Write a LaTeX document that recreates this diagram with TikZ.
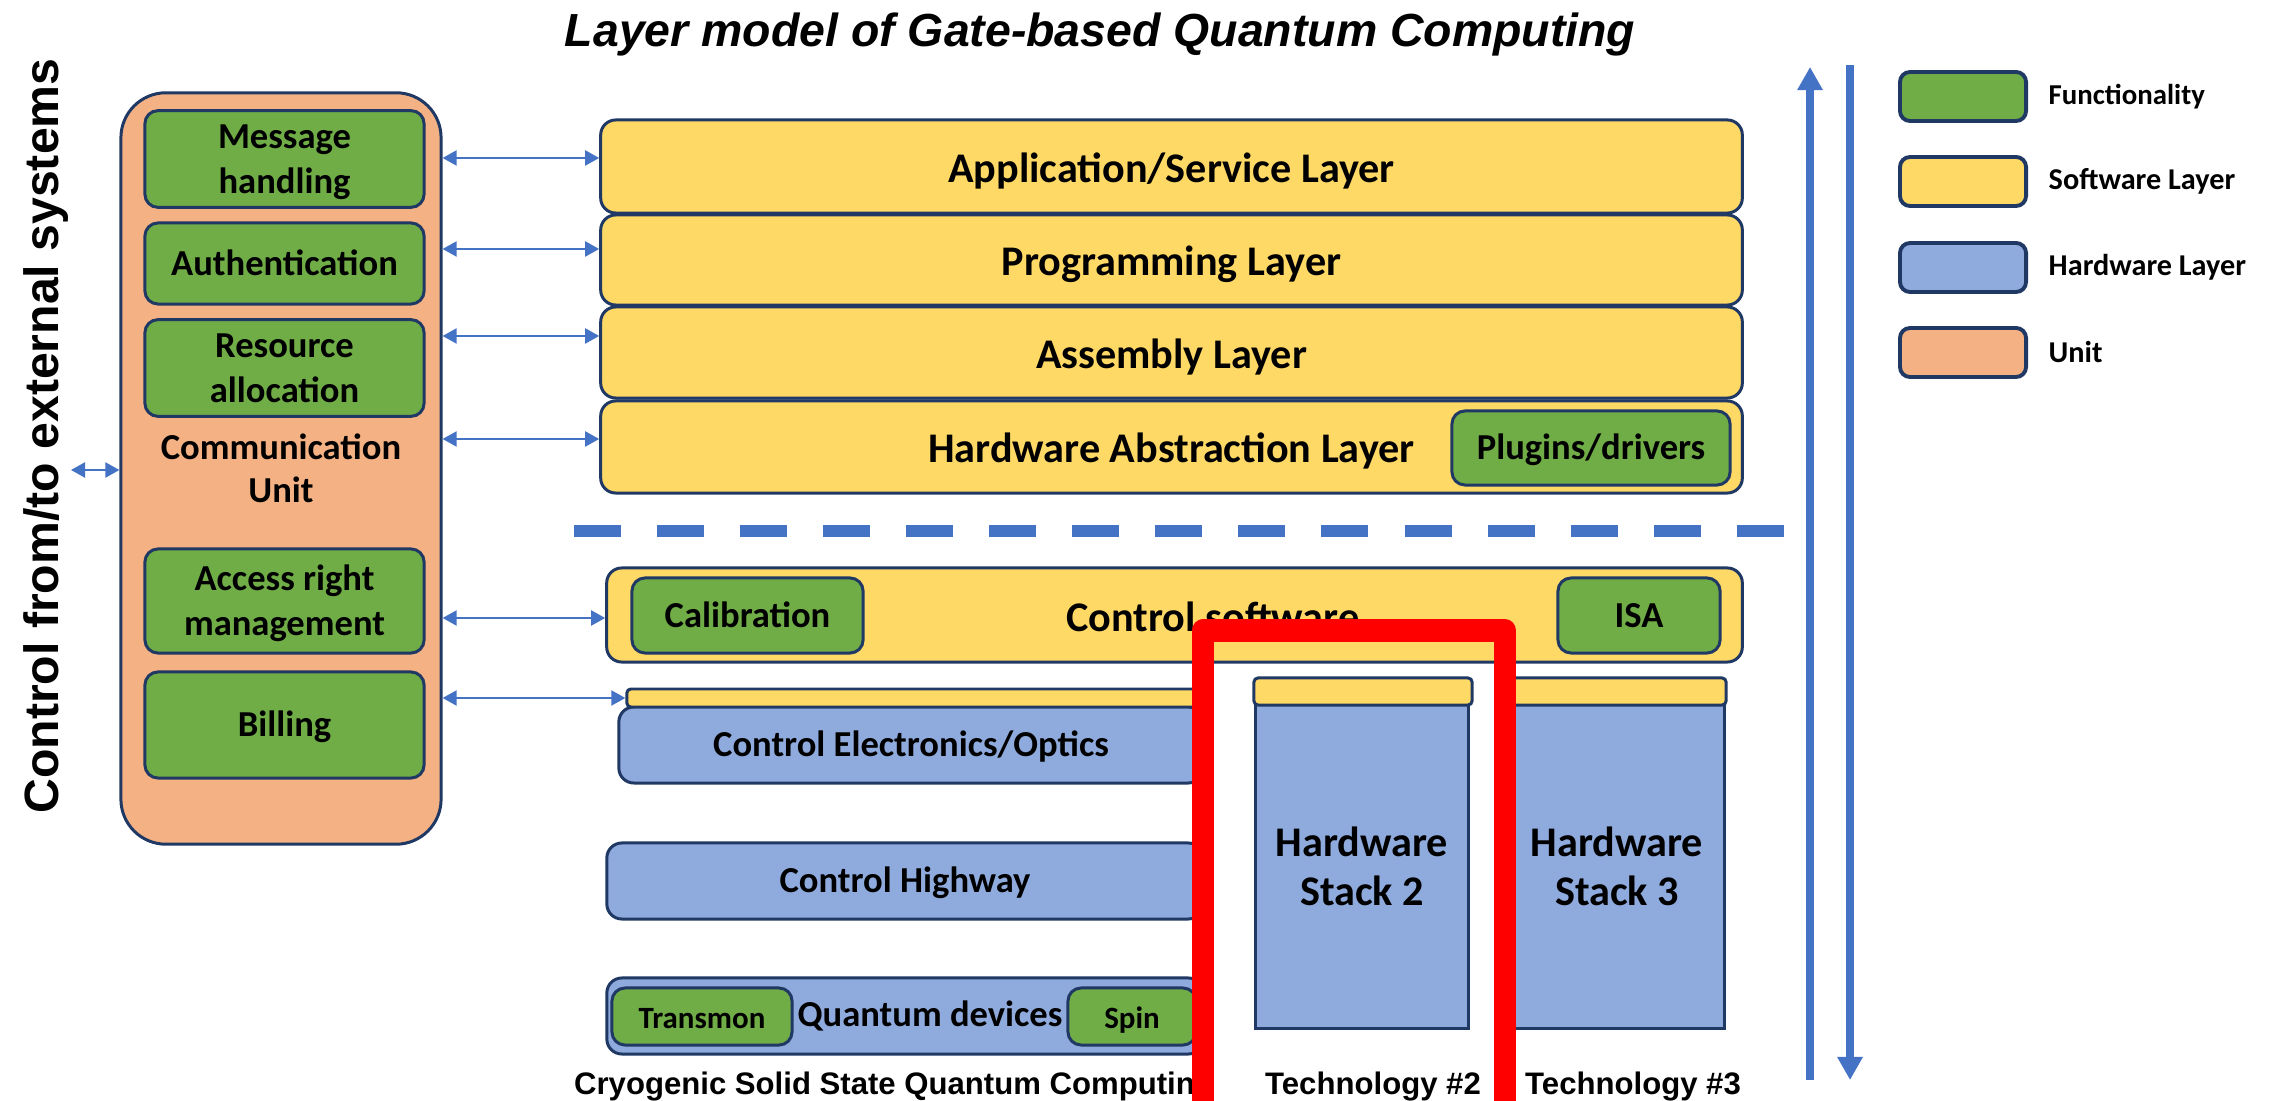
\documentclass[tikz,border=0pt]{standalone}
\usepackage{xcolor}
\usepackage{fontspec}
\setmainfont{Carlito}
\newfontfamily\arialfont{Liberation Sans}
\usepackage{tikz}
\usetikzlibrary{positioning,arrows.meta}

\definecolor{funcgreen}{HTML}{70AD47}
\definecolor{swyellow}{HTML}{FFD966}
\definecolor{hwblue}{HTML}{8FAADC}
\definecolor{unitorange}{HTML}{F4B183}
\definecolor{linkblue}{HTML}{4472C4}
\definecolor{boxline}{HTML}{203864}

% line struts for text set in several lines
\newcommand{\tstr}{\rule{0pt}{0.95em}}
\newcommand{\bstr}{\rule[-0.27em]{0pt}{0.27em}}

\begin{document}
\begin{tikzpicture}[x=0.01cm,y=-0.01cm]
				\tikzstyle{boxbase}=[draw=boxline, line width=0.85pt, inner sep=1pt, align=center, font=\bfseries\fontsize{10.4}{12.8}\selectfont]
				\tikzstyle{oneline}=[text height=9.5pt, text depth=2.7pt]
				\tikzstyle{twoline}=[text height=, text depth=]
				\tikzstyle{funcbox}=[boxbase, oneline, fill=funcgreen, rounded corners=0.13cm]
				\tikzstyle{swlayer}=[boxbase, fill=swyellow, rounded corners=0.15cm, text height=11.9pt, text depth=3pt, font=\bfseries\fontsize{12}{14}\selectfont]
				\tikzstyle{hwlayer}=[boxbase, oneline, fill=hwblue, rounded corners=0.15cm]
				\tikzstyle{hwstack}=[boxbase, fill=hwblue, minimum height=3.23cm, font=\bfseries\fontsize{12}{14}\selectfont]
				\tikzstyle{fwcap}=[boxbase, fill=swyellow, rounded corners=0.04cm, inner sep=0pt]
				\tikzstyle{unitbox}=[boxbase, fill=unitorange, rounded corners=0.45cm, font=\bfseries\fontsize{10.4}{12}\selectfont]
				\tikzstyle{legbox}=[draw=boxline, line width=1.1pt, rounded corners=0.1cm, minimum width=1.26cm, minimum height=0.49cm]
				\tikzstyle{legtext}=[font=\bfseries\fontsize{8.6}{10}\selectfont, inner sep=0pt]
				\tikzstyle{techlabel}=[font=\arialfont\bfseries\fontsize{8.85}{10}\selectfont, inner sep=0pt, anchor=base]
				\tikzset{link/.style = {<->, >={Triangle[length=0.14cm,width=0.15cm]}, draw=linkblue, line width=0.6pt}}
				\tikzset{bigarrow/.style = {-{Triangle[length=0.23cm,width=0.24cm]}, draw=linkblue, line width=0.075cm}}

				\useasboundingbox (0,0) rectangle (2280,1101);

				% title + side label
				\node[font=\arialfont\bfseries\itshape\fontsize{13.2}{16}\selectfont, anchor=base](title) at (1100,47) {Layer model of Gate-based Quantum Computing};
				\node[font=\arialfont\bfseries\fontsize{13.7}{16}\selectfont, rotate=90, anchor=base](extsys) at (58,436) {Control from/to external systems};

				% communication unit + functionalities
				\node[unitbox, minimum width=3.2cm, minimum height=7.51cm](unit) at (281,468.5) {\tstr Communication\\Unit\bstr};
				\node[funcbox, twoline, minimum width=2.79cm, minimum height=0.88cm](msg)    at (284.5,159)   {\tstr Message\\handling\bstr};
				\node[funcbox, minimum width=2.79cm, minimum height=0.81cm](auth)            at (284.5,263.5) {Authentication};
				\node[funcbox, twoline, minimum width=2.79cm, minimum height=0.82cm](res)    at (284.5,368)   {\tstr Resource\\allocation\bstr};
				\node[funcbox, twoline, minimum width=2.79cm, minimum height=1.04cm](access) at (284.5,601)   {\tstr Access right\\management\bstr};
				\node[funcbox, minimum width=2.79cm, minimum height=1.06cm](billing)         at (284.5,725)   {Billing};

				% software layers
				\node[swlayer, minimum width=11.41cm, minimum height=0.93cm](app)  at (1171.5,166.5) {Application/Service Layer};
				\node[swlayer, minimum width=11.41cm, minimum height=0.90cm](prog) at (1171.5,260)   {Programming Layer};
				\node[swlayer, minimum width=11.41cm, minimum height=0.91cm](asm)  at (1171.5,352.5) {Assembly Layer};
				\node[swlayer, minimum width=11.41cm, minimum height=0.92cm](hal)  at (1171.5,447)   {Hardware Abstraction Layer};
				\node[funcbox, minimum width=2.78cm, minimum height=0.74cm](plugins) at (1591,448) {Plugins/drivers};

				% separator
				\coordinate (sepL) at (574,531);
				\coordinate (sepR) at (1786,531);
				\draw[linkblue, line width=0.11cm, dash pattern=on 0.47cm off 0.36cm] (sepL) -- (sepR);

				% control software
				\node[swlayer, minimum width=11.35cm, minimum height=0.94cm](ctrlsw) at (1174.5,615) {};
				\node[font=\bfseries\fontsize{12}{14}\selectfont](ctrlswtxt) at (1213,617) {Control software};
				\node[funcbox, minimum width=2.31cm, minimum height=0.75cm](calib) at (747.5,615.5) {Calibration};
				\node[funcbox, minimum width=1.62cm, minimum height=0.75cm](isa)   at (1639,615.5)  {ISA};

				% technology #1 stack
				\node[hwlayer, minimum width=5.84cm, minimum height=0.76cm](ctrlel) at (911,745) {Control Electronics/Optics};
				\node[fwcap, minimum width=5.76cm, minimum height=0.18cm](fw1) at (915,698) {};
				\node[hwlayer, minimum width=5.96cm, minimum height=0.76cm](highway) at (905,881) {Control Highway};
				\node[hwlayer, minimum width=5.96cm, minimum height=0.76cm](qdev) at (905,1016) {};
				\node[font=\bfseries\fontsize{10.4}{12}\selectfont](qdevtxt) at (930,1016) {Quantum devices};
				\node[funcbox, minimum width=1.80cm, minimum height=0.57cm, font=\bfseries\fontsize{8.8}{10}\selectfont](transmon) at (702,1016.5) {Transmon};
				\node[funcbox, minimum width=1.28cm, minimum height=0.57cm, font=\bfseries\fontsize{8.8}{10}\selectfont](spin) at (1132,1016.5) {Spin};

				% technology #2 + #3 stacks
				\node[hwstack, minimum width=2.12cm](stack2) at (1362,866.5) {\tstr Hardware\\Stack 2\bstr};
				\node[fwcap, minimum width=2.18cm, minimum height=0.27cm](fw2) at (1363,691.5) {};
				\node[hwstack, minimum width=2.14cm](stack3) at (1617,866.5) {\tstr Hardware\\Stack 3\bstr};
				\node[fwcap, minimum width=2.18cm, minimum height=0.27cm](fw3) at (1617,691.5) {};

				% labels below
				\node[techlabel](tech1) at (894,1094)  {Cryogenic Solid State Quantum Computing};
				\node[techlabel](tech2) at (1373,1094) {Technology \#2};
				\node[techlabel](tech3) at (1633,1094) {Technology \#3};

				% links unit <-> layers
				\coordinate (appin)  at ([yshift=0.085cm]app.west);
				\coordinate (progin) at ([yshift=0.11cm]prog.west);
				\coordinate (asmin)  at ([yshift=0.165cm]asm.west);
				\coordinate (halin)  at ([yshift=0.08cm]hal.west);
				\coordinate (swin)   at ([yshift=-0.03cm]ctrlsw.west);
				\draw[link](unit.east |- appin)  to (appin);
				\draw[link](unit.east |- progin) to (progin);
				\draw[link](unit.east |- asmin)  to (asmin);
				\draw[link](unit.east |- halin)  to (halin);
				\draw[link](unit.east |- swin)   to (swin);
				\draw[link](unit.east |- fw1.west) to (fw1.west);
				\coordinate (ext) at (71,470);
				\draw[link](ext) to (ext -| unit.west);

				% highlight
				\coordinate (redBL) at (1203,1101);
				\coordinate (redTL) at (1203,630.5);
				\coordinate (redTR) at (1505,630.5);
				\coordinate (redBR) at (1505,1101);
				\draw[red, line width=0.22cm, line join=round] (redBL) -- (redTL) -- (redTR) -- (redBR);

				% direction arrows
				\coordinate (upS) at (1810,1080);
				\coordinate (upE) at (1810,67);
				\coordinate (dnS) at (1850,65);
				\coordinate (dnE) at (1850,1080);
				\draw[bigarrow](upS) to (upE);
				\draw[bigarrow](dnS) to (dnE);

				% legend
				\node[legbox, fill=funcgreen](legfunc) at (1963,96.5)  {};
				\node[legbox, fill=swyellow](legsw)    at (1963,181.5) {};
				\node[legbox, fill=hwblue](leghw)      at (1963,267.5) {};
				\node[legbox, fill=unitorange](legunit) at (1963,352.5) {};
				\node[legtext, font=\bfseries\fontsize{8.2}{10}\selectfont, right=0.2cm of legfunc](legfunctxt) {Functionality};
				\node[legtext, right=0.2cm of legsw](legswtxt)     {Software Layer};
				\node[legtext, right=0.2cm of leghw](leghwtxt)     {Hardware Layer};
				\node[legtext, right=0.2cm of legunit](legunittxt) {Unit};
\end{tikzpicture}
\end{document}
